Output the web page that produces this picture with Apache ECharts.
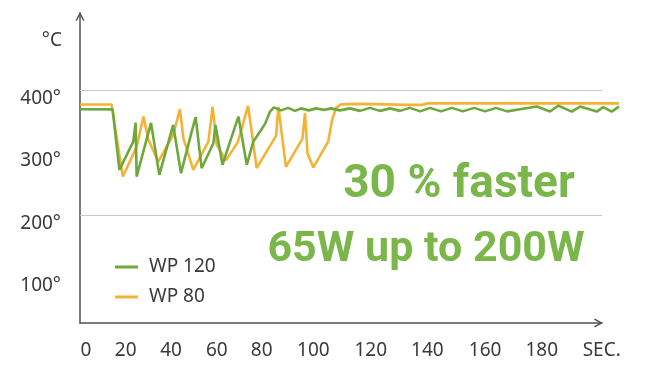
<!DOCTYPE html>
<html>
<head>
<meta charset="utf-8">
<script src="https://cdn.jsdelivr.net/npm/echarts@6/dist/echarts.min.js"></script>
<style>
html,body{margin:0;padding:0;background:#fff;}
#chart{width:647px;height:372px;}
</style>
</head>
<body>
<div id="chart"></div>
<script>
// x tick positions (axis units) and their labels, as placed in the original
const xTickPos = [2.3, 17.5, 34.9, 52.4, 69.6, 89.4, 111.4, 133.1, 155.2, 176.9, 199.9];
const xTickLabels = ['0', '20', '40', '60', '80', '100', '120', '140', '160', '180', 'SEC.'];
const yTickValues = [100, 200, 300, 400];
const yTickLabels = ['100°', '200°', '300°', '400°'];
const gridValues = [200, 400];

const seriesNames = ['WP 120', 'WP 80'];

// WP 120 (green)
const wp120X = [0, 12.5, 15.1, 20.4, 21.3, 21.7, 27.2, 30.4, 35.7, 38.7, 42.8, 44.3, 46.6, 51.1, 51.9, 54.6,
  57.5, 60.7, 63.9, 66.4, 69.0, 70.9, 72.8, 74.3, 77.0, 79.7, 82.4, 84.7, 87.7, 90.4, 93.5, 96.2, 99.6,
  103.4, 107.3, 111.1, 114.9, 118.8, 122.6, 126.4, 130.3, 134.1, 138.3, 142.5, 146.7, 151.0, 155.2,
  159.4, 163.6, 168.6, 175.0, 180.1, 183.3, 188.4, 191.6, 198.0, 200.5, 203.7, 206.5];
const wp120Y = [369.1, 368.8, 272, 317.3, 347.7, 261.3, 347.2, 264, 344, 266.7, 333.3, 356.3, 274.7, 314.7, 344, 280,
  317.3, 357.3, 280, 317.3, 333.3, 345.6, 365.3, 372, 367.2, 371.2, 366.4, 370.4, 367.2, 370.4, 368, 370.4, 367.2,
  370.4, 366.4, 371.2, 366.4, 370.4, 366.4, 371.2, 365.6, 371.2, 365.6, 371.2, 365.6, 371.2, 365.6,
  371.2, 365.6, 369.1, 373.3, 365.3, 374.9, 365.3, 373.3, 365.3, 372.3, 365.3, 373.3];

// WP 80 (orange)
const wp80X = [0, 12.1, 16.4, 21.7, 24.3, 26.2, 30.0, 35.7, 38.3, 39.6, 43.4, 49.2, 50.8, 52.4, 55.9, 60.5,
  64.4, 67.7, 75.1, 76.0, 78.9, 85.2, 86.2, 87.2, 89.4, 95.1, 96.6, 98.1, 100.0, 107.3, 116.9, 124.5, 131.0,
  133.3, 206.5];
const wp80Y = [376.5, 376.5, 261.3, 308.8, 357.3, 320, 285.3, 328, 369.1, 322.7, 272, 317.3, 373.3, 312, 287.2, 316.8,
  374.4, 274.7, 326.4, 372.8, 276.8, 321.6, 363.2, 297.6, 276, 317.3, 352, 371.2, 376.8, 377.6, 376.8, 376, 376,
  378.4, 378.4];

const green = '#6ea83a';
const orange = '#f5b236';
const textGreen = '#7ab64a';
const textColor = '#3a3a3a';
const axisColor = '#505050';

const xMin = 0, xMax = 200;      // visible axis extent
const xDataMax = 206.5;          // data run a bit past the arrow, as in the original
const yMin = 27, yMax = 523;

function zip(xs, ys) { return xs.map((x, i) => [x, ys[i]]); }

const chevron = 'path://M0,9 L5,0 L10,9 L8.6,9.8 L5,3.2 L1.4,9.8 Z';
const labelFont = '"Noto Sans", "Open Sans", sans-serif';
const bigFont = 'Roboto, "Liberation Sans", sans-serif';

const W = 647, gridLeft = 80, gridRight = 45;
const axisWidth = W - gridLeft - gridRight;
const dataRight = W - gridLeft - axisWidth * (xDataMax - xMin) / (xMax - xMin);

const chart = echarts.init(document.getElementById('chart'), null, {renderer: 'canvas'});
chart.setOption({
  animation: false,
  backgroundColor: '#ffffff',
  title: [
    {text: '30 % faster', left: 459, top: 162, textAlign: 'center', padding: 0,
     textStyle: {color: textGreen, fontSize: 46, fontWeight: 'bold', fontFamily: bigFont, lineHeight: 46}},
    {text: '65W up to 200W', left: 426, top: 229, textAlign: 'center', padding: 0,
     textStyle: {color: textGreen, fontSize: 43, fontWeight: 'bold', fontFamily: bigFont, lineHeight: 43}}
  ],
  legend: {
    data: seriesNames,
    orient: 'vertical',
    left: 115,
    top: 257,
    padding: 0,
    icon: 'rect',
    itemWidth: 23,
    itemHeight: 3,
    itemGap: 10,
    textStyle: {color: textColor, fontSize: 19, lineHeight: 20, fontFamily: labelFont, padding: [0, 0, 0, 6]}
  },
  grid: [
    {left: gridLeft, right: gridRight, top: 13, bottom: 49, containLabel: false, outerBoundsMode: 'none'},
    {left: gridLeft, right: dataRight, top: 13, bottom: 49, containLabel: false, outerBoundsMode: 'none'}
  ],
  xAxis: [
    {
      type: 'value',
      gridIndex: 0,
      min: xMin,
      max: xMax,
      axisLine: {show: true, lineStyle: {color: axisColor, width: 1.5},
        symbol: ['none', chevron], symbolSize: [9, 9], symbolOffset: [0, -3.5]},
      axisTick: {show: false},
      splitLine: {show: false},
      axisLabel: {
        customValues: xTickPos,
        margin: 18,
        color: textColor,
        fontSize: 19,
        lineHeight: 20,
        fontFamily: labelFont,
        formatter: function (v) {
          let best = 0;
          for (let i = 1; i < xTickPos.length; i++) {
            if (Math.abs(xTickPos[i] - v) < Math.abs(xTickPos[best] - v)) best = i;
          }
          return xTickLabels[best];
        }
      }
    },
    {
      type: 'value',
      gridIndex: 1,
      min: xMin,
      max: xDataMax,
      show: false
    }
  ],
  yAxis: [
    {
      type: 'value',
      gridIndex: 0,
      min: yMin,
      max: yMax,
      name: '°C',
      nameLocation: 'end',
      nameGap: -28,
      nameTextStyle: {color: textColor, fontSize: 19, fontFamily: labelFont, align: 'right', verticalAlign: 'middle', padding: [0, 18, 0, 0]},
      axisLine: {show: true, lineStyle: {color: axisColor, width: 1.5},
        symbol: ['none', chevron], symbolSize: [9, 9], symbolOffset: [0, -3.5]},
      axisTick: {show: false},
      splitLine: {show: false},
      axisLabel: {
        customValues: yTickValues,
        margin: 19,
        color: textColor,
        fontSize: 19,
        lineHeight: 17,
        verticalAlign: 'top',
        fontFamily: labelFont,
        formatter: function (v) {
          const i = yTickValues.indexOf(v);
          return i >= 0 ? yTickLabels[i] : '';
        }
      }
    },
    {
      type: 'value',
      gridIndex: 1,
      min: yMin,
      max: yMax,
      show: false
    }
  ],
  series: [
    {
      name: 'grid',
      type: 'line',
      xAxisIndex: 0,
      yAxisIndex: 0,
      data: [],
      silent: true,
      markLine: {
        silent: true,
        symbol: ['none', 'none'],
        label: {show: false},
        lineStyle: {color: '#c9c9c9', width: 1, type: 'solid'},
        data: gridValues.map(v => ({yAxis: v}))
      }
    },
    {
      name: seriesNames[1],
      type: 'line',
      xAxisIndex: 1,
      yAxisIndex: 1,
      data: zip(wp80X, wp80Y),
      color: orange,
      showSymbol: false,
      lineStyle: {color: orange, width: 2.6}
    },
    {
      name: seriesNames[0],
      type: 'line',
      xAxisIndex: 1,
      yAxisIndex: 1,
      data: zip(wp120X, wp120Y),
      color: green,
      showSymbol: false,
      lineStyle: {color: green, width: 2.6}
    }
  ]
});
</script>
</body>
</html>
